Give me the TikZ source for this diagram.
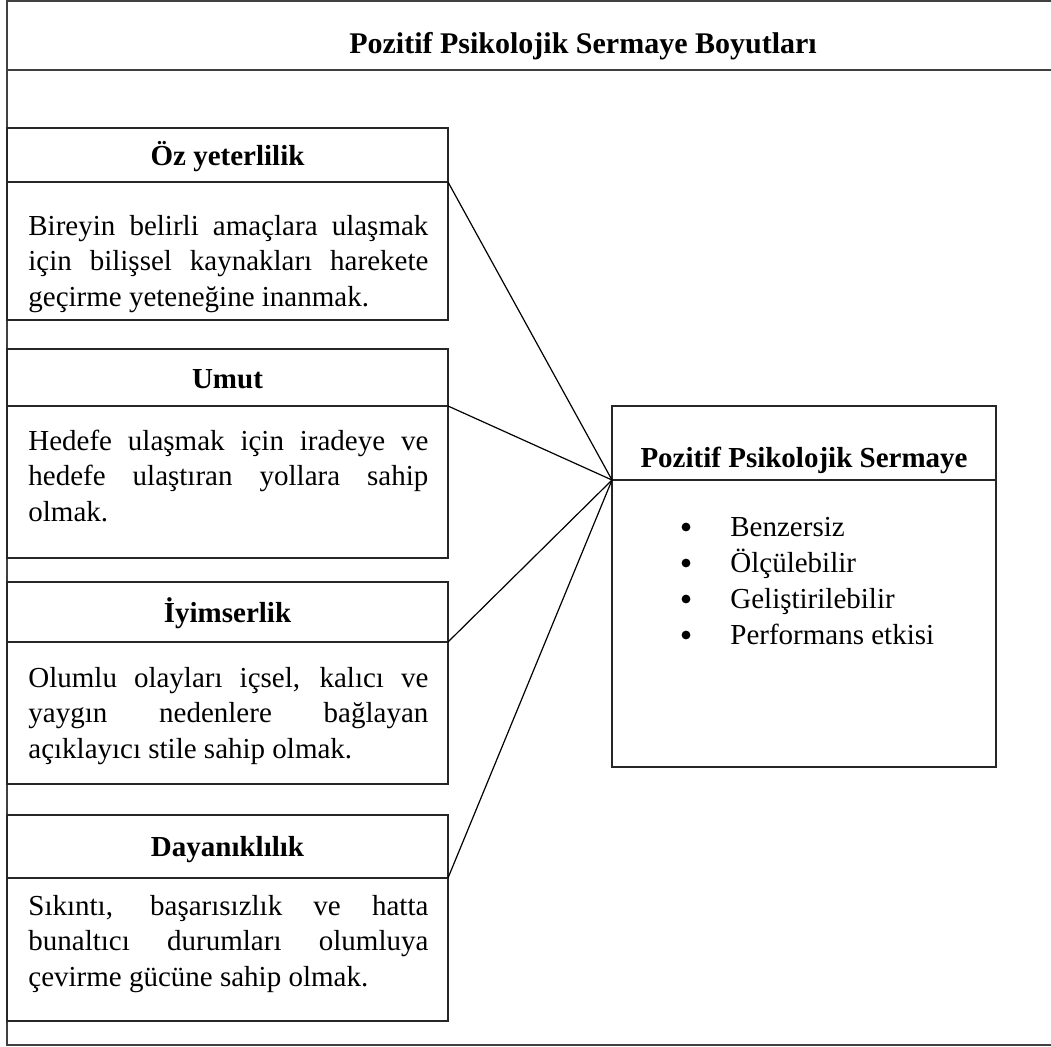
\documentclass[tikz,border=0pt]{standalone}
\usepackage{fontspec}
\setmainfont{Liberation Serif}
\begin{document}
\begin{tikzpicture}[x=0.5pt,y=-0.5pt,
  box/.style={draw=black!85, line width=0.75pt, inner sep=0pt, outer sep=0pt, minimum width=220.5pt},
  rbox/.style={draw=black!85, line width=0.75pt, inner sep=0pt, outer sep=0pt, minimum width=192pt},
  frame/.style={draw=black!75, line width=0.9pt},
  link/.style={draw=black, line width=0.6pt},
  dot/.style={circle, fill=black, inner sep=0pt, minimum size=4.4pt},
  hd/.style={font=\fontsize{14.5pt}{17pt}\selectfont\bfseries, inner sep=0pt, anchor=base},
  bodytext/.style={font=\fontsize{14.5pt}{17.8pt}\selectfont, inner sep=0pt, anchor=base west, text width=200pt, align=justify},
  listtext/.style={font=\fontsize{14.5pt}{18pt}\selectfont, inner sep=0pt, anchor=base west, text width=140pt, align=justify}]
\useasboundingbox (0,0) rectangle (1051,1046);
% outer frame
\draw[frame] (1060,1) -- (7,1) -- (7,1045) -- (1060,1045);
\draw[frame] (7,70) -- (1060,70);
\node[hd, font=\fontsize{15pt}{17pt}\selectfont\bfseries] (title) at (583,53) {Pozitif Psikolojik Sermaye Boyutları};
% left boxes
\node[box, minimum height=27pt] (h1) at (227.5,155) {};
\node[box, minimum height=69pt] (b1) at (227.5,251) {};
\node[box, minimum height=28.5pt] (h2) at (227.5,377.5) {};
\node[box, minimum height=76pt] (b2) at (227.5,482) {};
\node[box, minimum height=30pt] (h3) at (227.5,612) {};
\node[box, minimum height=71pt] (b3) at (227.5,713) {};
\node[box, minimum height=31.5pt] (h4) at (227.5,846.5) {};
\node[box, minimum height=71.5pt] (b4) at (227.5,949.5) {};
% right box
\node[rbox, minimum height=37pt] (rh) at (804,443) {};
\node[rbox, minimum height=143.5pt] (rb) at (804,623.5) {};
% header texts
\node[hd] (t1) at (227.5,165) {Öz yeterlilik};
\node[hd] (t2) at (227.5,388) {Umut};
\node[hd] (t3) at (227.5,622) {İyimserlik};
\node[hd] (t4) at (227.5,856) {Dayanıklılık};
\node[hd] (tr) at (804,467) {Pozitif Psikolojik Sermaye};
% body texts
\node[bodytext] (p1) at (28,235) {\makebox[200pt][s]{Bireyin belirli amaçlara ulaşmak}\\\makebox[200pt][s]{için bilişsel kaynakları harekete}\\geçirme yeteneğine inanmak.};
\node[bodytext] (p2) at (28,450) {\makebox[200pt][s]{Hedefe ulaşmak için iradeye ve}\\\makebox[200pt][s]{hedefe ulaştıran yollara sahip}\\olmak.};
\node[bodytext] (p3) at (28,687) {\makebox[200pt][s]{Olumlu olayları içsel, kalıcı ve}\\\makebox[200pt][s]{yaygın nedenlere bağlayan}\\açıklayıcı stile sahip olmak.};
\node[bodytext] (p4) at (28,915) {\makebox[200pt][s]{Sıkıntı, başarısızlık ve hatta}\\\makebox[200pt][s]{bunaltıcı durumları olumluya}\\çevirme gücüne sahip olmak.};
% bullet list
\node[dot] (d1) at (686,527) {};
\node[dot] (d2) at (686,563) {};
\node[dot] (d3) at (686,599) {};
\node[dot] (d4) at (686,635) {};
\node[listtext] (list) at (730,536) {Benzersiz\\Ölçülebilir\\Geliştirilebilir\\Performans etkisi};
% connectors
\draw[link] (h1.south east) -- (rh.south west);
\draw[link] (h2.south east) -- (rh.south west);
\draw[link] (h3.south east) -- (rh.south west);
\draw[link] (h4.south east) -- (rh.south west);
\end{tikzpicture}
\end{document}
